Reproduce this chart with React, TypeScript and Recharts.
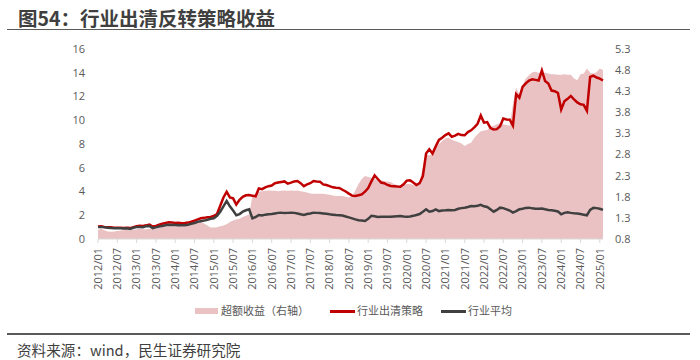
import React from 'react';
import { ComposedChart, Area, Line, XAxis, YAxis, Legend } from 'recharts';

// 行业出清策略 (left axis), monthly 2012/01 - 2025/02
const strategy = [
  1.05, 1.08, 1.02, 1.0, 0.98, 0.95, 0.94, 0.95, 0.93, 0.95, 0.92, 1.0,
  1.08, 1.12, 1.1, 1.15, 1.22, 1.05, 1.1, 1.2, 1.28, 1.35, 1.4, 1.38,
  1.35, 1.36, 1.33, 1.35, 1.38, 1.45, 1.55, 1.65, 1.75, 1.78, 1.83, 1.85,
  1.95, 2.1, 2.8, 3.5, 3.98, 3.5, 3.42, 2.9, 3.3, 3.55, 3.68, 3.7,
  3.65, 3.6, 4.25, 4.2, 4.35, 4.45, 4.5, 4.7, 4.75, 4.8, 4.85, 4.66,
  4.75, 4.85, 4.88, 4.7, 4.45, 4.6, 4.7, 4.88, 4.85, 4.83, 4.6, 4.55,
  4.45, 4.35, 4.32, 4.3, 4.15, 4.0, 3.82, 3.65, 3.62, 3.68, 3.75, 3.98,
  4.3, 4.85, 5.35, 5.05, 4.75, 4.7, 4.55, 4.46, 4.45, 4.42, 4.4, 4.6,
  4.92, 4.95, 4.75, 4.55, 4.7, 5.3, 7.2, 7.55, 7.2, 7.8, 8.35, 8.53,
  8.75, 8.9, 8.6, 8.7, 8.85, 8.75, 8.73, 9.0, 9.15, 9.4, 9.7, 10.4,
  9.8, 9.85, 9.35, 9.22, 9.25, 9.5, 10.15, 10.07, 10.05, 9.55, 12.2, 11.9,
  12.8, 13.1, 13.35, 13.45, 13.4, 13.35, 14.2, 13.3, 13.1, 12.5, 12.45, 12.3,
  10.9, 11.6, 11.8, 12.05, 11.75, 11.5, 11.35, 11.3, 10.8, 13.65, 13.75, 13.6,
  13.5, 13.35,
];

// 行业平均 (left axis)
const industryAvg = [
  1.0, 1.02, 0.98, 0.95, 0.92, 0.9, 0.9, 0.9, 0.88, 0.9, 0.85, 0.95,
  1.0, 1.02, 1.0, 1.08, 1.1, 0.92, 0.98, 1.05, 1.1, 1.15, 1.2, 1.18,
  1.18, 1.16, 1.15, 1.16, 1.2, 1.28, 1.35, 1.45, 1.5, 1.55, 1.62, 1.7,
  1.75, 1.95, 2.3, 2.75, 3.2, 2.75, 2.4, 2.0, 2.1, 2.3, 2.42, 2.5,
  1.74, 1.85, 2.02, 1.98, 2.05, 2.08, 2.1, 2.15, 2.2, 2.22, 2.18, 2.2,
  2.22, 2.2, 2.15, 2.08, 2.02, 2.1, 2.15, 2.22, 2.2, 2.18, 2.15, 2.12,
  2.08, 2.05, 2.02, 2.0, 1.97, 1.9, 1.82, 1.74, 1.65, 1.58, 1.55, 1.52,
  1.7, 1.95, 1.92, 1.85, 1.88, 1.87, 1.88, 1.88, 1.9, 1.92, 1.94, 1.9,
  1.88, 1.9, 1.95, 2.02, 2.1, 2.3, 2.5, 2.3, 2.35, 2.5, 2.35, 2.4,
  2.42, 2.45, 2.43, 2.45, 2.55, 2.6, 2.64, 2.7, 2.78, 2.75, 2.8, 2.88,
  2.75, 2.7, 2.5, 2.3, 2.45, 2.64, 2.6, 2.5, 2.4, 2.22, 2.35, 2.5,
  2.55, 2.62, 2.64, 2.58, 2.55, 2.55, 2.56, 2.5, 2.45, 2.42, 2.38, 2.32,
  2.08, 2.2, 2.25, 2.2, 2.16, 2.14, 2.1, 2.05, 2.0, 2.45, 2.62, 2.6,
  2.55, 2.45,
];

// 超额收益（右轴）
const excess = [
  1.02, 1.04, 1.01, 0.98, 0.97, 0.98, 0.99, 1.0, 1.01, 1.02, 1.01, 1.02,
  1.03, 1.04, 1.03, 1.03, 1.04, 1.05, 1.04, 1.06, 1.08, 1.09, 1.1, 1.1,
  1.1, 1.11, 1.1, 1.1, 1.11, 1.13, 1.16, 1.18, 1.19, 1.17, 1.12, 1.07,
  1.07, 1.08, 1.1, 1.12, 1.15, 1.2, 1.24, 1.26, 1.28, 1.32, 1.35, 1.38,
  1.82, 1.85, 1.92, 1.93, 1.94, 1.95, 1.94, 1.94, 1.93, 1.94, 1.95, 1.94,
  1.95, 1.94, 1.95, 1.93, 1.92, 1.9, 1.88, 1.87, 1.87, 1.87, 1.87, 1.86,
  1.85, 1.83, 1.82, 1.82, 1.82, 1.8, 1.78, 1.82, 1.95, 2.1, 2.22, 2.29,
  2.27, 2.25, 2.22, 2.2, 2.19, 2.17, 2.16, 2.15, 2.1, 2.08, 2.07, 2.08,
  2.1, 2.1, 2.08, 2.1, 2.16, 2.5, 2.8, 2.78, 2.82, 2.95, 3.05, 3.12,
  3.18, 3.2, 3.15, 3.12, 3.1, 3.06, 3.0, 3.05, 3.08, 3.2, 3.28, 3.35,
  3.37, 3.38, 3.45, 3.48, 3.52, 3.55, 3.52, 3.5, 3.48, 4.0, 4.38, 4.22,
  4.45, 4.6, 4.68, 4.75, 4.76, 4.74, 4.75, 4.74, 4.72, 4.7, 4.7, 4.69,
  4.69, 4.7, 4.69, 4.69, 4.6, 4.56, 4.7, 4.72, 4.84, 4.74, 4.72, 4.75,
  4.84, 4.8,
];

const months: string[] = strategy.map(
  (_, i) => `${2012 + Math.floor(i / 12)}/${String((i % 12) + 1).padStart(2, '0')}`
);

const tickLabels = [
  '2012/01', '2012/07', '2013/01', '2013/07', '2014/01', '2014/07', '2015/01', '2015/07',
  '2016/01', '2016/07', '2017/01', '2017/07', '2018/01', '2018/07', '2019/01', '2019/07',
  '2020/01', '2020/07', '2021/01', '2021/07', '2022/01', '2022/07', '2023/01', '2023/07',
  '2024/01', '2024/07', '2025/01',
];
const leftTicks = [0, 2, 4, 6, 8, 10, 12, 14, 16];
const rightTicks = [0.8, 1.3, 1.8, 2.3, 2.8, 3.3, 3.8, 4.3, 4.8, 5.3];

const seriesNames = { excess: '超额收益（右轴）', strategy: '行业出清策略', avg: '行业平均' };
const COLORS = { excess: '#EAC2C3', strategy: '#C00000', avg: '#404040' };

const data = months.map((m, i) => ({
  d: m,
  strategy: strategy[i],
  avg: industryAvg[i],
  excess: excess[i],
}));

const FONT = "'Open Sans', 'Noto Sans CJK SC', sans-serif";
const TICK_COLOR = '#595959';

const XTick = (props: any) => {
  const { x, y, payload } = props;
  return (
    <g transform={`translate(${x},${y})`}>
      <text
        transform="rotate(-90)"
        textAnchor="end"
        x={0}
        y={0}
        dy="0.35em"
        fill={TICK_COLOR}
        fontSize={11}
        fontFamily={FONT}
      >
        {payload.value}
      </text>
    </g>
  );
};

const LegendContent = () => (
  <div
    style={{
      display: 'flex',
      justifyContent: 'center',
      alignItems: 'center',
      paddingLeft: 7,
      fontFamily: FONT,
      fontSize: 11,
      color: TICK_COLOR,
      lineHeight: '16px',
      whiteSpace: 'nowrap',
    }}
  >
    <span style={{ display: 'inline-block', width: 23, height: 6, background: COLORS.excess, marginRight: 3 }} />
    <span style={{ marginRight: 21 }}>{seriesNames.excess}</span>
    <span style={{ display: 'inline-block', width: 25, height: 3, background: COLORS.strategy, marginRight: 2 }} />
    <span style={{ marginRight: 18 }}>{seriesNames.strategy}</span>
    <span style={{ display: 'inline-block', width: 25, height: 3, background: COLORS.avg, marginRight: 2 }} />
    <span>{seriesNames.avg}</span>
  </div>
);

export default function App() {
  return (
    <div style={{ position: 'absolute', left: 0, top: 0, width: 700, height: 360, background: '#fff', overflow: 'hidden' }}>
      <div
        style={{
          position: 'absolute',
          left: 18,
          top: 7,
          fontFamily: "'Noto Sans CJK SC', sans-serif",
          fontWeight: 700,
          fontSize: 19.5,
          lineHeight: '21px',
          color: '#3f3f3f',
          whiteSpace: 'nowrap',
        }}
      >
        图54：行业出清反转策略收益
      </div>
      <div style={{ position: 'absolute', left: 7, top: 28.5, width: 683, height: 1.7, background: '#5a5a5a' }} />

      <div style={{ position: 'absolute', left: 0, top: 0 }}>
        <ComposedChart
          width={700}
          height={325}
          data={data}
          margin={{ top: 49, right: 37, bottom: 26, left: 38 }}
        >
          <XAxis
            dataKey="d"
            type="category"
            scale="point"
            padding={{ left: 0, right: 0 }}
            ticks={tickLabels}
            interval={0}
            height={60}
            axisLine={{ stroke: '#d9d9d9', strokeWidth: 1 }}
            tickLine={{ stroke: '#d9d9d9', strokeWidth: 1 }}
            tickSize={4}
            tickMargin={5}
            tick={<XTick />}
          />
          <YAxis
            yAxisId="left"
            orientation="left"
            domain={[0, 16]}
            ticks={leftTicks}
            interval={0}
            width={60}
            axisLine={false}
            tickLine={false}
            tickSize={0}
            tickMargin={13}
            tick={{ fill: TICK_COLOR, fontSize: 11, fontFamily: FONT }}
          />
          <YAxis
            yAxisId="right"
            orientation="right"
            domain={[0.8, 5.3]}
            ticks={rightTicks}
            interval={0}
            width={60}
            axisLine={false}
            tickLine={false}
            tickSize={0}
            tickMargin={12}
            tickFormatter={(v: number) => v.toFixed(1)}
            tick={{ fill: TICK_COLOR, fontSize: 11, fontFamily: FONT, textAnchor: 'start' }}
          />
          <Area
            yAxisId="right"
            dataKey="excess"
            name={seriesNames.excess}
            type="linear"
            fill={COLORS.excess}
            fillOpacity={1}
            stroke="none"
            isAnimationActive={false}
            legendType="rect"
          />
          <Line
            yAxisId="left"
            dataKey="strategy"
            name={seriesNames.strategy}
            type="linear"
            stroke={COLORS.strategy}
            strokeWidth={2.5}
            dot={false}
            activeDot={false}
            isAnimationActive={false}
            legendType="plainline"
          />
          <Line
            yAxisId="left"
            dataKey="avg"
            name={seriesNames.avg}
            type="linear"
            stroke={COLORS.avg}
            strokeWidth={2.5}
            dot={false}
            activeDot={false}
            isAnimationActive={false}
            legendType="plainline"
          />
          <Legend
            layout="horizontal"
            verticalAlign="middle"
            align="center"
            content={<LegendContent />}
            wrapperStyle={{ left: 0, top: 303, width: 700, height: 16 }}
          />
        </ComposedChart>
      </div>

      <div style={{ position: 'absolute', left: 7, top: 333, width: 683, height: 1.5, background: '#5a5a5a' }} />
      <div
        style={{
          position: 'absolute',
          left: 17,
          top: 341,
          fontFamily: "'Noto Sans CJK SC', sans-serif",
          fontSize: 14.6,
          lineHeight: '18px',
          color: '#3f3f3f',
          whiteSpace: 'nowrap',
        }}
      >
        资料来源：wind，民生证券研究院
      </div>
    </div>
  );
}
